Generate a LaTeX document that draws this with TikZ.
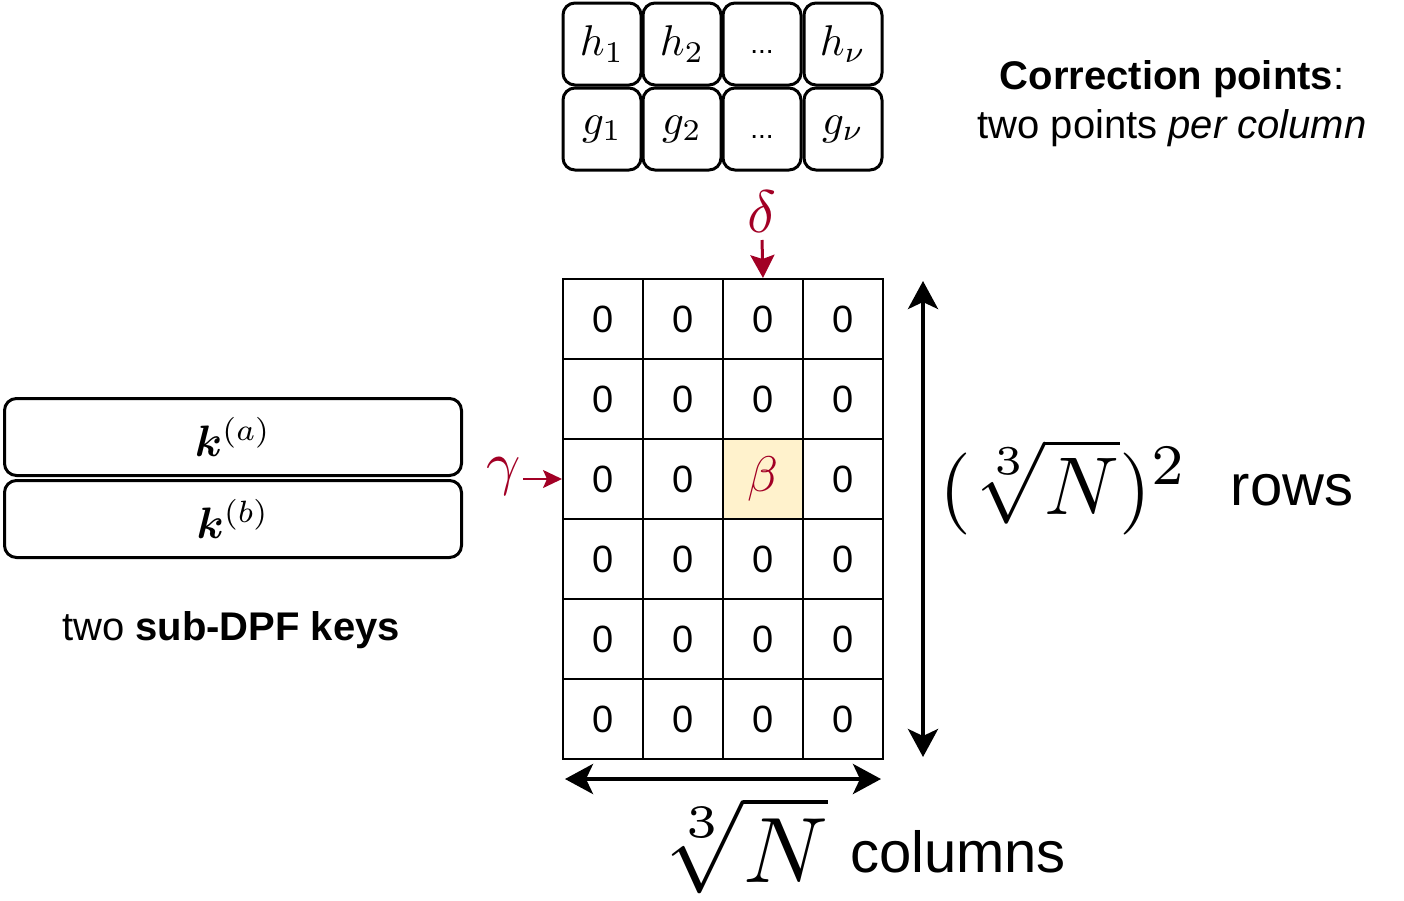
\documentclass[tikz,border=0pt]{standalone}
\usepackage{amsmath}
\usepackage{bm}
\usepackage{graphicx}
\usepackage{fontspec}
\setmainfont{Liberation Sans}
\usetikzlibrary{arrows.meta}
\definecolor{crim}{HTML}{A20025}
\definecolor{hl}{HTML}{FFF2CC}
\newcommand{\mth}[2]{\scalebox{#1}{\fontsize{10}{12}\selectfont$#2$}}
\newcommand{\lowdots}{\raisebox{-9pt}[0pt][0pt]{\fontsize{28}{30}\selectfont ...}}
\begin{document}
\begin{tikzpicture}[x=1pt,y=-1pt,
  cell/.style={draw,line width=2pt,minimum width=80pt,minimum height=80pt,inner sep=0pt,font=\fontsize{38}{40}\selectfont},
  cp/.style={draw,line width=3pt,rounded corners=12pt,minimum width=78pt,minimum height=82pt,inner sep=0pt},
  keybox/.style={draw,line width=3pt,rounded corners=12pt,minimum width=457pt,minimum height=77pt,inner sep=0pt},
  bigarrow/.style={{Stealth[length=28pt,width=30pt,inset=7pt]}-{Stealth[length=28pt,width=30pt,inset=7pt]},line width=4pt},
  redarrow/.style={-{Stealth[length=23pt,width=24pt,inset=4pt]},line width=3pt,draw=crim},
  redarrowsm/.style={-{Stealth[length=19pt,width=18pt,inset=4pt]},line width=2pt,draw=crim},
  lbl/.style={font=\fontsize{40}{49}\selectfont,align=center,inner sep=0pt},
  ]
\useasboundingbox (0,0) rectangle (1404,900);
% correction points
\node[cp] (h1) at (602,44) {\mth{4.3}{h_1}};
\node[cp] (h2) at (682,44) {\mth{4.3}{h_2}};
\node[cp] (h3) at (762,44) {\lowdots};
\node[cp] (h4) at (843,44) {\mth{4.3}{h_\nu}};
\node[cp] (g1) at (602,129) {\mth{4.3}{g_1}};
\node[cp] (g2) at (682,129) {\mth{4.3}{g_2}};
\node[cp] (g3) at (762,129) {\lowdots};
\node[cp] (g4) at (843,129) {\mth{4.3}{g_\nu}};
\node[lbl] (cptxt) at (1172,104) {\textbf{Correction points}:\\two points \textit{per column}};
% grid
\foreach \r in {1,...,6}{
  \foreach \c in {1,...,4}{
    \ifnum\r=3 \ifnum\c=3 \else
      \node[cell] (c\r\c) at ({523+80*\c},{239+80*\r}) {0};
    \fi\else
      \node[cell] (c\r\c) at ({523+80*\c},{239+80*\r}) {0};
    \fi
  }
}
\node[cell,fill=hl,draw=black,text=crim] (c33) at (763,479) {\mth{5}{\beta}};
% delta and gamma
\node[inner sep=0pt,text=crim] (delta) at (762,212) {\mth{6}{\delta}};
\coordinate (dstart) at (762,240);
\draw[redarrow] (dstart) -- (c13.north);
\node[inner sep=0pt,text=crim] (gamma) at (504,476) {\mth{6}{\gamma}};
\coordinate (gstart) at (523,479);
\draw[redarrowsm] (gstart) -- (c31.west);
% keys
\node[keybox] (ka) at (233,437) {\mth{4.4}{\bm{k}^{(a)}}};
\node[keybox] (kb) at (233,519) {\mth{4.4}{\bm{k}^{(b)}}};
\node[lbl] (keytxt) at (231,630) {two \textbf{sub-DPF keys}};
% dimension arrows
\coordinate (vtop) at (923,281);
\coordinate (vbot) at (923,757);
\draw[bigarrow] (vtop) -- (vbot);
\coordinate (hl) at (565,779);
\coordinate (hr) at (881,779);
\draw[bigarrow] (hl) -- (hr);
\node[inner sep=0pt] (rowmath) at (1064,487) {\mth{8.2}{(\sqrt[3]{N})^2}};
\node[inner sep=0pt,font=\fontsize{58}{60}\selectfont] (rowtxt) at (1292,490) {rows};
\node[inner sep=0pt] (colmath) at (744,845) {\mth{9.3}{\sqrt[3]{N}}};
\node[inner sep=0pt,font=\fontsize{58}{60}\selectfont] (coltxt) at (958,852) {columns};
\end{tikzpicture}
\end{document}
